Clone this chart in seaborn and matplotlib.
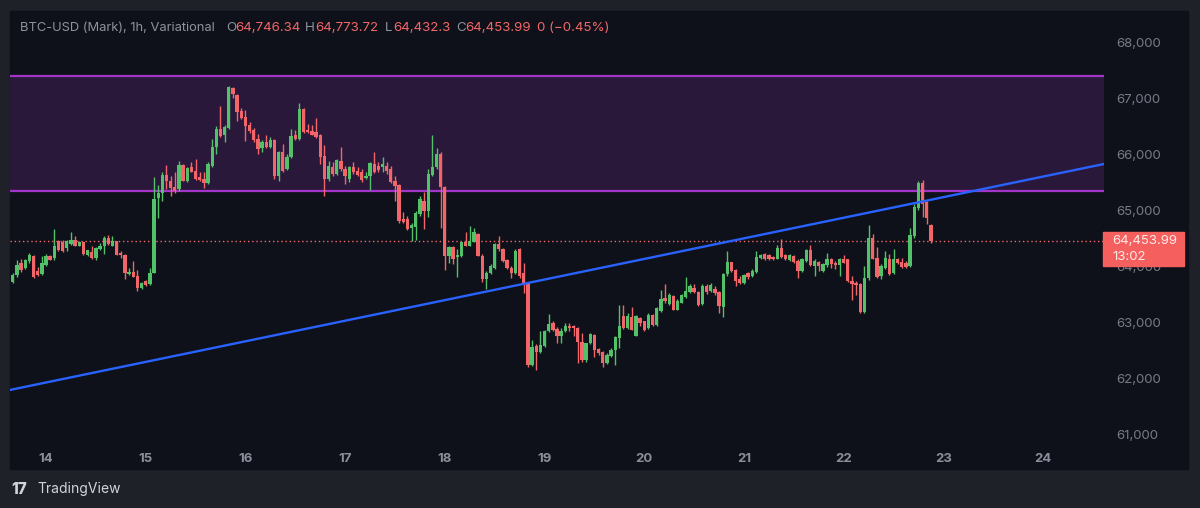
import pandas as pd
import matplotlib
matplotlib.use('Agg')
import matplotlib.pyplot as plt
import matplotlib.dates as mdates
from matplotlib.patches import Rectangle
import seaborn as sns

# BTC-USD (Mark) 1h candles (first candle 13 Jul 16:00)
first_candle = '2024-07-13 16:00'

opens = [
    63736, 63856, 64066, 63976, 64096, 64186, 63934, 63868, 64036, 64198,
    64156, 64456, 64438, 64336, 64414, 64474, 64378, 64438, 64204, 64258,
    64156, 64318, 64366, 64516, 64378, 64456, 64246, 64216, 63868, 63916,
    63838, 63616, 63742, 63694, 63898, 65236, 65326, 65638, 65536, 65434,
    65386, 65818, 65536, 65776, 65716, 65608, 65566, 65494, 65806, 66136,
    66466, 66358, 66478, 67198, 67066, 66778, 66676, 66526, 66436, 66286,
    66118, 66226, 66136, 66256, 65626, 66058, 65746, 65956, 66346, 66286,
    66814, 66438, 66420, 66408, 66348, 65976, 65568, 65778, 65658, 65898,
    65748, 65568, 65778, 65718, 65700, 65580, 65616, 65838, 65808, 65778,
    65808, 65748, 65538, 65460, 64848, 64848, 64698, 64716, 64938, 65178,
    64998, 65640, 65778, 66018, 65418, 64198, 64348, 64168, 64198, 64450,
    64378, 64450, 64588, 64198, 63778, 63886, 63988, 64408, 64318, 64120,
    63988, 63886, 64318, 63886, 63718, 62248, 62590, 62488, 62590, 62848,
    62998, 62890, 62758, 62848, 62950, 62950, 62908, 62668, 62338, 62638,
    62789, 62531, 62489, 62279, 62411, 62519, 62729, 63119, 62909, 63107,
    62771, 63089, 63029, 62909, 63149, 62969, 63209, 63449, 63329, 63479,
    63239, 63359, 63467, 63551, 63629, 63551, 63329, 63659, 63569, 63599,
    63551, 63287, 63869, 64079, 63947, 63779, 63707, 63887, 63839, 63911,
    64163, 64223, 64205, 64181, 64145, 64343, 64205, 64121, 64193, 64103,
    63923, 64103, 64301, 64013, 64085, 63923, 64025, 64133, 64061, 64025,
    64145, 64133, 63743, 63713, 63701, 63203, 63803, 64523, 64163, 63833,
    63983, 64145, 63893, 64133, 64085, 64061, 64013, 64553, 65045, 65501,
    65165, 64746.34,
]
highs = [
    63886, 64126, 64138, 64144, 64246, 64204, 64006, 64186, 64234, 64216,
    64678, 64486, 64486, 64486, 64618, 64546, 64456, 64450, 64306, 64378,
    64354, 64426, 64546, 64576, 64546, 64462, 64282, 64234, 63976, 64096,
    63946, 63730, 63766, 63976, 65596, 65458, 65686, 65818, 65626, 65686,
    65896, 65836, 65776, 65866, 65926, 65686, 65686, 65866, 66286, 66514,
    66874, 66526, 67234, 67216, 67078, 66838, 66796, 66586, 66478, 66376,
    66256, 66358, 66316, 66274, 66076, 66196, 66016, 66466, 66436, 66916,
    66838, 66558, 66528, 66648, 66378, 66168, 65898, 65868, 65928, 66138,
    65808, 65796, 65868, 65778, 65748, 65688, 65880, 66048, 65868, 65958,
    65880, 65808, 65628, 65478, 64980, 64908, 64788, 64998, 65268, 65340,
    65748, 66360, 66120, 66048, 65448, 64378, 64378, 64318, 64450, 64618,
    64726, 64690, 64606, 64228, 63928, 64048, 64420, 64558, 64330, 64138,
    64018, 64318, 64330, 64078, 63730, 62698, 62626, 62848, 62878, 63166,
    63028, 62920, 62908, 62998, 62998, 62968, 62920, 62818, 62650, 62818,
    62801, 62549, 62501, 62459, 62549, 62771, 63311, 63311, 63179, 63287,
    63149, 63107, 63041, 63179, 63167, 63287, 63587, 63689, 63527, 63491,
    63419, 63509, 63827, 63689, 63689, 63569, 63689, 63689, 63707, 63659,
    63569, 63899, 64289, 64091, 63959, 63839, 63869, 63911, 63959, 64289,
    64223, 64241, 64223, 64193, 64385, 64493, 64223, 64223, 64205, 64133,
    64163, 64313, 64385, 64133, 64103, 64061, 64253, 64163, 64103, 64163,
    64205, 64145, 63845, 63743, 63713, 64013, 64745, 64583, 64361, 64043,
    64283, 64223, 64313, 64163, 64163, 64103, 64685, 65123, 65525, 65543,
    65183, 64773.72,
]
lows = [
    63718, 63814, 63916, 63964, 64066, 63808, 63838, 63856, 64024, 64114,
    64126, 64276, 64264, 64276, 64396, 64366, 64366, 64216, 64186, 64138,
    64126, 64294, 64234, 64396, 64366, 64204, 64156, 63778, 63856, 63814,
    63574, 63598, 63664, 63682, 63886, 64876, 65176, 65386, 65266, 65326,
    65356, 65524, 65518, 65686, 65554, 65536, 65416, 65476, 65776, 66016,
    66316, 66226, 66466, 67006, 66598, 66634, 66238, 66394, 66226, 66016,
    66046, 66118, 66118, 65566, 65536, 65698, 65734, 65938, 66256, 66256,
    66394, 66396, 66348, 66300, 65838, 65268, 65538, 65628, 65640, 65718,
    65478, 65508, 65658, 65616, 65520, 65568, 65376, 65676, 65688, 65688,
    65658, 65496, 65178, 64788, 64788, 64656, 64458, 64488, 64908, 64668,
    64896, 65628, 65748, 64698, 63948, 64078, 64048, 63826, 64168, 64366,
    64366, 64438, 64186, 63730, 63598, 63868, 63970, 64288, 64090, 63970,
    63808, 63868, 63808, 63526, 62218, 62230, 62158, 62470, 62578, 62830,
    62860, 62638, 62650, 62830, 62848, 62758, 62278, 62308, 62308, 62626,
    62399, 62429, 62207, 62267, 62387, 62249, 62549, 62891, 62891, 62867,
    62759, 62939, 62849, 62891, 62951, 62951, 63191, 63359, 63311, 63227,
    63227, 63347, 63449, 63539, 63527, 63299, 63311, 63509, 63551, 63491,
    63179, 63107, 63839, 63911, 63659, 63689, 63689, 63791, 63827, 63899,
    64145, 64121, 64121, 64115, 64133, 64163, 64121, 64103, 64073, 63803,
    63905, 64085, 64013, 63845, 63923, 63905, 64001, 63983, 63965, 63845,
    64061, 63725, 63413, 63503, 63173, 63185, 63773, 64133, 63803, 63785,
    63965, 63863, 63881, 64043, 63983, 63983, 64001, 64523, 65021, 64883,
    64763, 64432.3,
]
closes = [
    63856, 64036, 63946, 64126, 64204, 63826, 63856, 64066, 64186, 64126,
    64366, 64294, 64276, 64456, 64474, 64378, 64438, 64228, 64294, 64156,
    64336, 64378, 64516, 64414, 64456, 64216, 64216, 63886, 63916, 63826,
    63616, 63706, 63676, 63898, 65218, 65326, 65638, 65536, 65416, 65356,
    65818, 65536, 65758, 65698, 65566, 65548, 65494, 65836, 66136, 66466,
    66334, 66496, 67216, 67078, 66766, 66658, 66514, 66418, 66256, 66106,
    66226, 66136, 66256, 65626, 66058, 65716, 65956, 66334, 66274, 66814,
    66406, 66408, 66360, 66318, 65958, 65568, 65808, 65658, 65916, 65748,
    65628, 65778, 65688, 65640, 65556, 65628, 65856, 65700, 65736, 65838,
    65718, 65508, 65448, 64818, 64800, 64668, 64740, 64956, 65208, 64998,
    65658, 65778, 66018, 65418, 64188, 64348, 64138, 64210, 64438, 64378,
    64468, 64618, 64198, 63778, 63898, 64018, 64408, 64318, 64108, 63988,
    63886, 64288, 63838, 63718, 62248, 62578, 62488, 62608, 62848, 62986,
    62878, 62758, 62848, 62938, 62908, 62908, 62668, 62338, 62638, 62807,
    62519, 62459, 62279, 62429, 62519, 62747, 62939, 62909, 63119, 62879,
    63119, 62999, 62879, 63149, 62969, 63269, 63419, 63389, 63491, 63239,
    63389, 63491, 63569, 63659, 63551, 63311, 63659, 63551, 63671, 63539,
    63299, 63869, 64079, 63929, 63749, 63707, 63851, 63827, 63929, 64169,
    64205, 64145, 64133, 64133, 64343, 64181, 64145, 64205, 64085, 63923,
    64133, 64301, 64025, 64103, 64013, 64043, 64145, 64043, 64025, 64133,
    64073, 63743, 63701, 63683, 63203, 63803, 64523, 64145, 63821, 64013,
    64163, 63881, 64133, 64061, 64001, 64001, 64565, 65063, 65501, 65123,
    64865, 64453.99,
]

# drawings on the chart
zone_top = 67400
zone_bottom = 65360
trend_times = ['2024-07-13 15:20', '2024-07-24 14:40']
trend_prices = [61804, 65836]
price_ticks = [61000, 62000, 63000, 64000, 65000, 66000, 67000, 68000]
countdown = '13:02'

UP = '#53c06a'
DOWN = '#f26669'
PANEL = '#0e1119'
OUTER = '#1f2129'

sns.set_style('dark')
plt.rcParams['font.family'] = ['Inter', 'DejaVu Sans']

df = pd.DataFrame({'open': opens, 'high': highs, 'low': lows, 'close': closes})
df['time'] = pd.date_range(first_candle, periods=len(df), freq='h')
df['x'] = mdates.date2num(df['time'])
df['up'] = df['close'] >= df['open']

W, H = 1200, 508
fig = plt.figure(figsize=(12, 5.08), dpi=100)
fig.patch.set_facecolor(OUTER)
fig.add_artist(Rectangle((10 / W, (H - 469) / H), 1178 / W, 458 / H,
                         transform=fig.transFigure, color=PANEL, zorder=0))

ax = fig.add_axes([10 / W, (H - 442) / H, 1094 / W, 431 / H])
ax.set_facecolor(PANEL)
for s in ax.spines.values():
    s.set_visible(False)
ax.grid(False)

# resistance zone
ax.axhspan(zone_bottom, zone_top, color='#2a183a', zorder=1, lw=0)
ax.axhline(zone_top, color='#a334c9', lw=1.6, zorder=2)
ax.axhline(zone_bottom, color='#a334c9', lw=1.6, zorder=2)

# candles
wbody = 0.8 / 24
colors = df['up'].map({True: UP, False: DOWN})
ax.vlines(df['x'], df['low'], df['high'], colors=colors, lw=1, zorder=3)
body_lo = df[['open', 'close']].min(axis=1)
body_h = (df['close'] - df['open']).abs().clip(lower=18)
ax.bar(df['x'], body_h, bottom=body_lo, width=wbody, color=colors, lw=0, zorder=4)

# trend line
trend = pd.DataFrame({'time': mdates.date2num(pd.to_datetime(trend_times)), 'price': trend_prices})
sns.lineplot(data=trend, x='time', y='price', ax=ax, color='#2962ff', lw=1.7, zorder=5)

# last price line
last = closes[-1]
ax.axhline(last, color=DOWN, lw=1.0, ls=(0, (1, 2)), zorder=2)

ax.set_xlim(mdates.date2num(pd.Timestamp('2024-07-13 15:20')),
            mdates.date2num(pd.Timestamp('2024-07-24 14:40')))
ax.set_ylim(60875, 68566)
ax.set_xlabel('')
ax.set_ylabel('')

ax.xaxis.set_major_locator(mdates.DayLocator())
ax.xaxis.set_major_formatter(mdates.DateFormatter('%-d'))
ax.tick_params(axis='x', length=0, pad=8, labelsize=9.5, labelcolor='#8a8f9b')
for t in ax.get_xticklabels():
    t.set_fontweight('bold')

ax.yaxis.tick_right()
ax.set_yticks(price_ticks)
ax.set_yticklabels([f'{p:,}' for p in price_ticks])
ax.tick_params(axis='y', length=0, pad=9, labelsize=9.5, labelcolor='#777b87')

# price label on the scale
y_disp = ax.transData.transform((0, last))[1]
fig.add_artist(Rectangle((1103 / W, (y_disp - 25) / H), 81 / W, 34 / H,
                         transform=fig.transFigure, color='#f5605f', zorder=10))
fig.text(1112 / W, y_disp / H, f'{last:,.2f}', color='#ffe9e9', fontsize=9.5,
         va='center', ha='left', zorder=11)
fig.text(1112 / W, (y_disp - 16) / H, countdown, color='#ffe9e9', fontsize=9.5,
         va='center', ha='left', zorder=11)

# header legend
hy = 1 - 28 / H
gray = '#8e929d'
fig.text(20 / W, hy, 'BTC-USD (Mark), 1h, Variational', color=gray,
         fontsize=9.3, va='center', ha='left')
head = [
    (226, 'O', gray), (235, f'{opens[-1]:,.2f}', DOWN),
    (305, 'H', gray), (315, f'{highs[-1]:,.2f}', DOWN),
    (385, 'L', gray), (393, f'{lows[-1]:,.1f}', DOWN),
    (456, 'C', gray), (465, f'{closes[-1]:,.2f}', DOWN),
    (537, '0 (\u22120.45%)', DOWN),
]
for px, txt, col in head:
    fig.text(px / W, hy, txt, color=col, fontsize=9.6, va='center', ha='left')

# footer logo
fig.text(11 / W, 1 - 489 / H, '17', color='#d1d4dc', fontsize=11,
         fontweight='heavy', va='center', ha='left')
fig.text(37 / W, 1 - 489 / H, 'TradingView', color='#d1d4dc', fontsize=10,
         va='center', ha='left')

fig.savefig('out.png', dpi=100, facecolor=OUTER)
